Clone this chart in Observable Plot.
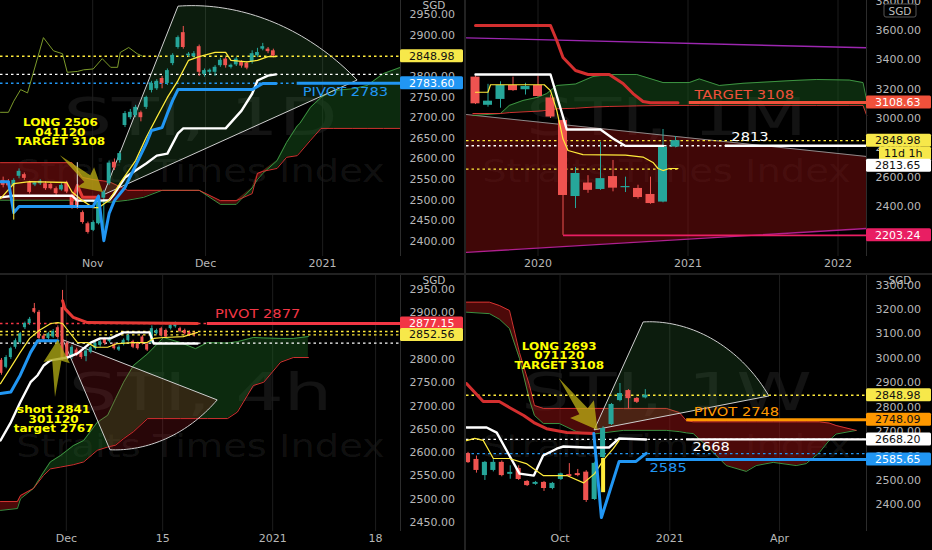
<!DOCTYPE html>
<html><head><meta charset="utf-8">
<script src="https://cdn.jsdelivr.net/npm/d3@7"></script>
<script src="https://cdn.jsdelivr.net/npm/@observablehq/plot@0.6"></script>
<style>
html,body{margin:0;padding:0;background:#000;}
#wrap{position:relative;width:932px;height:550px;overflow:hidden;background:#222;}
.panel{position:absolute;background:#000;overflow:hidden;}
.panel svg{display:block;}
</style></head><body><div id="wrap"></div>
<script>
// ================= DATA =================
// ---- Panel 1: STI, 1D (daily) ----  candles [open, high, low, close]
const d1Candles = [
 [2548,2556,2530,2536],[2545,2550,2530,2535],[2536,2552,2530,2548],[2558,2576,2552,2570],
 [2562,2566,2548,2553],[2543,2546,2515,2519],[2537,2545,2533,2542],[2540,2550,2536,2546],
 [2540,2545,2524,2528],[2538,2542,2525,2528],[2528,2532,2512,2516],[2525,2540,2522,2536],
 [2542,2546,2516,2520],[2511,2515,2478,2482],[2505,2508,2478,2482],[2470,2474,2442,2446],
 [2443,2447,2418,2422],[2427,2450,2424,2446],[2443,2512,2440,2507],[2505,2524,2402,2520],
 [2540,2595,2536,2590],[2592,2600,2572,2578],[2596,2618,2590,2613],[2681,2715,2676,2710],
 [2700,2720,2695,2713],[2705,2730,2700,2725],[2712,2716,2690,2700],[2725,2752,2720,2749],
 [2766,2788,2760,2783],[2770,2792,2766,2788],[2795,2800,2770,2783],[2783,2818,2778,2814],
 [2831,2855,2826,2851],[2870,2898,2866,2894],[2906,2921,2866,2870],[2850,2858,2846,2854],
 [2848,2860,2844,2855],[2872,2876,2800,2810],[2805,2818,2798,2814],[2810,2818,2804,2815],
 [2810,2826,2800,2822],[2826,2844,2822,2839],[2842,2846,2820,2826],[2822,2830,2818,2827],
 [2828,2846,2824,2842],[2835,2838,2820,2825],[2832,2836,2816,2820],[2835,2862,2830,2855],
 [2850,2868,2846,2858],[2866,2880,2862,2872],[2866,2870,2855,2860],[2862,2866,2845,2849]
];
const d1Tenkan = [[-0.5,2504],[2,2540],[5,2545],[12,2543],[13,2520],[15,2499],[17,2482],[18,2482],[20,2500],[22,2540],[25,2596],[27,2652],[29,2701],[31,2749],[33,2790],[35,2839],[37,2848],[40,2858],[42,2858],[43,2839],[46,2835],[48,2839],[50,2848],[51.5,2848]];
const d1Kijun = [[-0.5,2507],[2,2511],[13,2511],[14,2499],[18,2499],[20,2500],[21,2516],[23,2555],[25,2572],[27,2589],[29,2608],[31,2613],[33,2662],[34,2674],[42,2674],[45,2717],[47,2758],[48,2790],[50,2802],[51.5,2805]];
const d1Blue = [[-0.5,2545],[1,2545],[2,2470],[3,2485],[17,2485],[18,2510],[19,2402],[20,2468],[21,2499],[23,2531],[25,2584],[27,2637],[28,2669],[30,2676],[31,2710],[32,2742],[33,2768],[47,2768],[49,2783],[51.5,2783]];
const d1Lagging = [[-0.5,2713],[1,2713],[2,2740],[3.3,2768],[4.6,2760],[7.6,2894],[9.5,2862],[11.2,2855],[12.1,2810],[14,2812],[15.2,2816],[17,2818],[18.7,2843],[20.3,2822],[21.6,2822],[22.1,2858],[23.7,2870],[25.3,2855],[26.3,2849]];
const d1RedThick = [[13,2499],[14,2536],[15,2507],[18,2507]];
const d1CloudX = [-0.5,13,15,17,20,23.5,26.5,30,37,41,44,47,48,49,51.7,53.5,55.5,56,58,60,62.3,66,68.7,71.8,75];
const d1SpanA = [2500,2500,2498,2497,2495,2500,2507,2524,2524,2490,2490,2530,2550,2565,2596,2640,2680,2686,2725,2749,2766,2770,2778,2807,2822];
const d1SpanB = [2591,2591,2555,2550,2545,2524,2524,2524,2524,2499,2499,2516,2565,2570,2577,2604,2608,2615,2645,2674,2674,2674,2674,2674,2674];
const d1Dotted = [2848.98, 2805, 2783.6];
const d1Segments = [[55.5, 75, 2783.6]];
const d1Verticals = [[14, 2482, 2591], [2, 2452, 2540]];
const d1LevelText = [["PIVOT 2783", 64.6, 2763]];
const d1Note = {lines: ["LONG 2506", "041120", "TARGET 3108"], x: 10.8, y: 2664};
const d1Fan = {apex: [19, 2512], p1: [33.1, 2969], p2: [66.9, 2790]};
const d1Arrow = {tail: [10.8, 2608], tip: [18.9, 2519]};
const d1YTicks = [2400,2450,2500,2550,2600,2650,2700,2750,2800,2850,2900,2950];
const d1XTicks = [16.9, 38.2, 60.3];
const d1XLabels = ["Nov", "Dec", "2021"];
const d1Tags = [["2848.98", 2848.98], ["2783.60", 2783.60]];

// ---- Panel 2: STI, 1M (monthly, Aug 2019 .. Dec 2020) ----
const m1Candles = [
 [3282,3290,3095,3100],[3090,3233,3077,3118],[3130,3250,3070,3225],[3225,3282,3185,3190],
 [3196,3240,3160,3218],[3225,3290,3145,3150],[3140,3160,3000,3010],[2986,2990,2203,2475],
 [2468,2666,2386,2625],[2560,2610,2490,2510],[2516,2838,2510,2590],[2604,2714,2500,2525],
 [2528,2600,2495,2536],[2523,2545,2450,2461],[2482,2600,2415,2420],[2430,2925,2425,2805],
 [2805,2877,2800,2849]
];
const m1Red = [[0,3634],[6,3634],[6.5,3532],[7,3416],[8,3327],[9,3300],[10.7,3300],[11.8,3239],[12.6,3170],[13.4,3116],[14,3108],[16.2,3108]];
const m1White = [[0,3300],[6,3300],[7.3,2925],[10,2925],[11,2864],[12,2813],[15,2813]];
const m1Yellow = [[0,3179],[1,3179],[1.2,3230],[5.5,3230],[6,3190],[6.5,3055],[7,2860],[7.4,2782],[8.6,2754],[12,2750],[13.4,2737],[14.2,2700],[14.6,2659],[15,2645],[15.5,2659],[16.2,2659]];
const m1CloudX = [-0.2,2,2.7,3.8,5,5.7,6.5,8,9.4,10.7,12.9,15,17.1,17.9,19.5,21.4,25.4,27.3,29.9,31,31.3];
const m1SpanA = [3020,3034,3089,3123,3145,3170,3225,3235,3286,3300,3300,3245,3245,3270,3225,3240,3259,3266,3262,3245,3120];
const m1SpanB = [3034,3034,3040,3045,3050,3055,3066,3070,3078,3082,3086,3089,3089,3089,3089,3089,3089,3089,3089,3089,3020];
const m1ChannelTop = [[-0.72, 3027], [31.28, 2741]];
const m1ChannelBottom = [[-0.72, 2087], [31.28, 2250]];
const m1Resistance = [[-0.72, 3550], [31.28, 3482]];
const m1Dotted = [2848.98, 2813.65];
const m1DottedSeg = [[-0.72, 16.3, 2655]];
const m1Segments = [[17.1, 31.28, 3108.63], [20, 31.28, 2813.65], [7.04, 31.28, 2203.24]];
const m1LevelText = [["TARGET 3108", 21.5, 3161], ["2813", 21.96, 2870]];
const m1YTicks = [2400,2600,2800,3000,3200,3400,3600,3800];
const m1XTicks = [5, 17, 29];
const m1XLabels = ["2020", "2021", "2022"];
const m1Tags = [["3108.63", 3108.63], ["2848.98", 2848.98], ["11d 1h", 2848.98], ["2813.65", 2813.65], ["2203.24", 2203.24]];

// ---- Panel 3: STI, 4h ----
const h4Candles = [
 [2798,2802,2766,2770],[2783,2808,2780,2804],[2804,2826,2800,2823],[2826,2844,2822,2840],
 [2836,2858,2832,2855],[2868,2880,2864,2877],[2877,2890,2873,2886],[2909,2920,2898,2901],
 [2901,2905,2840,2845],[2850,2854,2838,2843],[2845,2858,2842,2855],[2848,2864,2845,2860],
 [2868,2872,2843,2847],[2911,2948,2798,2802],[2834,2838,2798,2802],[2804,2830,2800,2826],
 [2820,2824,2806,2810],[2815,2818,2800,2804],[2806,2822,2795,2818],[2815,2828,2812,2825],
 [2823,2837,2820,2834],[2830,2841,2826,2838],[2843,2846,2830,2834],[2838,2848,2835,2845],
 [2832,2835,2820,2823],[2820,2829,2817,2826],[2832,2844,2829,2841],[2840,2854,2837,2851],
 [2838,2841,2823,2826],[2834,2837,2820,2823],[2848,2851,2831,2834],[2832,2835,2817,2820],
 [2836,2872,2833,2866],[2855,2865,2852,2862],[2866,2869,2848,2851],[2862,2865,2845,2848],
 [2866,2876,2863,2873],[2870,2880,2867,2877],[2866,2869,2857,2860],[2862,2865,2852,2855],
 [2858,2861,2849,2852],[2856,2859,2848,2852.56]
];
const h4Red = [[13,2926],[13.5,2909],[15.3,2890],[18.3,2879],[41.7,2877]];
const h4Yellow = [[-0.2,2748],[2,2783],[4,2815],[6,2845],[8,2862],[10.5,2877],[12,2879],[13,2877],[14.7,2855],[16.2,2836],[18.3,2836],[20,2826],[22.6,2826],[24.7,2834],[28,2836],[31,2836],[32.4,2845],[34.5,2847],[38.7,2849],[41.7,2858]];
const h4White = [[-0.2,2626],[2,2665],[4,2708],[6.2,2751],[7.7,2766],[9,2787],[10.4,2798],[14,2804],[16.2,2813],[19,2836],[21,2845],[23.2,2845],[26,2858],[31.5,2858],[32.4,2834],[41.7,2834]];
const h4Blue = [[-0.2,2727],[2,2730],[4,2766],[6.2,2815],[7.7,2840],[12,2840]];
const h4CloudX = [-0.2,3.4,4.06,6.8,8.95,10.4,12.6,15.3,17.5,20.4,22.6,24.3,26,28.1,31.1,34.5,38.1,41.3,43.8,48.1,50.2,53.6,55.8,59.4,62.1,65.3];
const h4SpanA = [2476,2480,2501,2523,2558,2580,2594,2615,2626,2665,2680,2716,2751,2787,2812,2847,2836,2823,2836,2835,2838,2847,2846,2845,2845,2849];
const h4SpanB = [2495,2495,2508,2523,2551,2565,2569,2574,2580,2605,2612,2616,2630,2645,2673,2673,2673,2673,2673,2673,2687,2744,2751,2794,2804,2804];
const h4Dotted = [2877.15, 2860, 2852.56, 2835];
const h4Segments = [[43.8, 84.9, 2877.15]];
const h4LevelText = [["PIVOT 2877", 54.5, 2896]];
const h4Note = {lines: ["short 2841", "301120", "target 2767"], x: 11.1, y: 2671};
const h4Fan = {apex: [13.2, 2841], p1: [46, 2712], p2: [23.2, 2605]};
const h4Arrow = {tail: [11.5, 2718], tip: [12.1, 2841]};
const h4YTicks = [2450,2500,2550,2600,2650,2700,2750,2800,2850,2900,2950];
const h4XTicks = [13.8, 34.3, 57.7, 79.6];
const h4XLabels = ["Dec", "15", "2021", "18"];
const h4Tags = [["2877.15", 2877.15], ["2852.56", 2852.56]];

// ---- Panel 4: STI, 1W (weekly) ----
const w1Candles = [
 [2610,2615,2570,2573],[2586,2600,2530,2541],[2520,2578,2500,2574],[2541,2585,2535,2574],
 [2574,2580,2515,2520],[2525,2560,2505,2533],[2549,2560,2500,2504],[2496,2500,2475,2479],
 [2484,2496,2480,2492],[2492,2496,2455,2467],[2467,2492,2462,2488],[2504,2530,2500,2527],
 [2524,2569,2515,2516],[2528,2545,2515,2520],[2534,2540,2410,2418],[2422,2575,2418,2570],
 [2594,2720,2590,2713],[2729,2815,2725,2811],[2827,2897,2822,2856],[2868,2872,2794,2835],
 [2836,2840,2815,2820],[2838,2872,2834,2849]
];
const w1Red = [[-0.18,2897],[1.8,2823],[3.7,2823],[4.9,2799],[6.6,2766],[7.8,2737],[9.3,2712],[11.7,2696],[14.9,2692]];
const w1White = [[-0.18,2717],[2.2,2717],[3.4,2696],[4.9,2602],[6.1,2528],[7.8,2520],[8.9,2602],[10.5,2630],[11.3,2639],[14,2635],[16.7,2635],[17.9,2672],[21.1,2668]];
const w1Yellow = [[-0.18,2663],[0.8,2672],[1.8,2664],[3,2590],[4.9,2590],[6.9,2569],[8.9,2520],[11.7,2520],[13.7,2490],[15,2528],[16,2582],[17.2,2630],[17.9,2664]];
const w1Blue = [[14.9,2692],[15.8,2348],[17.9,2578],[19.9,2578],[21.1,2611]];
const w1CloudX = [-0.18,2.54,3.73,4.91,6.09,7.28,7.87,8.93,10.83,12.84,14.85,18.4,23.49,25.03,25.86,26.68,28.22,30.59,32.96,34.14,36.15,38.87,40.06,41.6,42.78,43.6,45.97];
const w1SpanA = [3189,3183,3160,3122,3000,2830,2766,2733,2733,2700,2690,2705,2705,2700,2695,2692,2643,2561,2537,2561,2574,2561,2569,2614,2664,2690,2705];
const w1SpanB = [3230,3230,3216,3196,3024,2889,2807,2795,2795,2795,2795,2795,2795,2778,2745,2740,2740,2740,2740,2740,2740,2740,2740,2740,2735,2725,2705];
const w1Dotted = [2848.98, 2668.2, 2610];
const w1Segments = [[25.9, 47.2, 2748.09], [25.9, 47.2, 2668.2], [21.1, 47.2, 2585.65]];
const w1Verticals = [[16, 2450, 2590]];
const w1LevelText = [["PIVOT 2748", 31.8, 2778], ["2668", 28.8, 2635], ["2585", 23.7, 2549]];
const w1Note = {lines: ["LONG 2693", "071120", "TARGET 3108"], x: 10.8, y: 3008};
const w1Fan = {apex: [15, 2705], p1: [20.8, 3147], p2: [35.7, 2844]};
const w1Arrow = {tail: [10.8, 2917], tip: [15.4, 2705]};
const w1YTicks = [2400,2500,2600,2700,2800,2900,3000,3100,3200,3300];
const w1XTicks = [10.9, 23.9, 36.9];
const w1XLabels = ["Oct", "2021", "Apr"];
const w1Tags = [["2848.98", 2848.98], ["2748.09", 2748.09], ["2668.20", 2668.20], ["2585.65", 2585.65]];

// ================= STYLE =================
const UP = "#26a69a", DOWN = "#ef5350";
const YEL = "#ffeb3b", WHITE = "#ffffff", BLUE = "#2196f3", RED = "#f23645", ORANGE = "#ff9800", PINK = "#e91e63";
const WM = "#ffffff";
const STRETCH = new Map();

const pts = arr => arr.map(([x, y]) => ({x, y}));

function fanMark(f, fill) {
  return (index, {x, y}) => {
    const A = [x(f.apex[0]), y(f.apex[1])];
    const P = [x(f.p1[0]), y(f.p1[1])], Q = [x(f.p2[0]), y(f.p2[1])];
    const r1 = Math.hypot(P[0]-A[0], P[1]-A[1]), r2 = Math.hypot(Q[0]-A[0], Q[1]-A[1]);
    const a1 = Math.atan2(P[1]-A[1], P[0]-A[0]), a2 = Math.atan2(Q[1]-A[1], Q[0]-A[0]);
    const arc = d3.range(41).map(k => { const t = k/40, a = a1+(a2-a1)*t, r = r1+(r2-r1)*t; return [A[0]+r*Math.cos(a), A[1]+r*Math.sin(a)]; });
    const g = d3.create("svg:g");
    g.append("path").attr("d", "M" + [A, ...arc].map(p => p.join(",")).join("L") + "Z")
      .attr("fill", fill).attr("stroke", "#cfcfcf").attr("stroke-width", 1);
    return g.node();
  };
}
function arrowMark(a, fill) {
  return (index, {x, y}) => {
    const tx = x(a.tail[0]), ty = y(a.tail[1]), hx = x(a.tip[0]), hy = y(a.tip[1]);
    const L = Math.hypot(hx-tx, hy-ty), ux = (hx-tx)/L, uy = (hy-ty)/L, nx = -uy, ny = ux;
    const shape = [[0,0],[0.64,-0.08],[0.6,-0.23],[1,0],[0.6,0.23],[0.64,0.08]];
    const p = shape.map(([s, w]) => [tx + ux*s*L + nx*w*L, ty + uy*s*L + ny*w*L]);
    const g = d3.create("svg:g");
    g.append("path").attr("d", "M" + p.map(q => q.join(",")).join("L") + "Z").attr("fill", fill);
    return g.node();
  };
}
function tagMark(tags, styles, sgdBox) {
  return (index, {y}, values, dim) => {
    const x0 = dim.width - dim.marginRight;
    const g = d3.create("svg:g").attr("font-family", "DejaVu Sans").attr("font-size", 11).attr("text-anchor", "start");
    if (sgdBox) g.append("rect").attr("x", x0 + 18).attr("y", 4).attr("width", 32).attr("height", 13).attr("rx", 2)
      .attr("fill", "#000").attr("stroke", "#555");
    g.append("text").attr("x", x0 + 34).attr("y", sgdBox ? 10.5 : 5).attr("text-anchor", "middle")
      .attr("dominant-baseline", "central").attr("fill", "#bdbdbd").attr("font-size", 10.5).text("SGD");
    tags.forEach(([label, value], k) => {
      const s = styles[k];
      const cy = y(value) + (s.dy || 0);
      const left = x0 + (s.inset || 0);
      g.append("rect").attr("x", left).attr("y", cy - 6.5).attr("width", dim.width - 1 - left).attr("height", 13)
        .attr("rx", 1.5).attr("fill", s.bg);
      g.append("text").attr("x", left + (s.inset ? 5 : 9)).attr("y", cy + 0.5).attr("dominant-baseline", "central")
        .attr("text-anchor", "start").attr("fill", s.fg).text(label);
    });
    return g.node();
  };
}

function panel(c) {
  const candles = c.candles.map((d, i) => ({i, o: d[0], h: d[1], l: d[2], c: d[3]}));
  const ups = candles.filter(d => d.c >= d.o), downs = candles.filter(d => d.c < d.o);
  const cloud = c.cloudX.map((x, k) => ({x, a: c.spanA[k], b: c.spanB[k]}));
  const xMap = new Map(c.xTicks.map((t, k) => [t, c.xLabels[k]]));
  STRETCH.set(c.wm, 1.5);
  STRETCH.set("Straits Times Index", 1.2);
  const marks = [
    Plot.text([c.wm], {frameAnchor: "top", dy: 98, fontSize: 51, fill: WM, fillOpacity: 0.075}),
    Plot.text(["Straits Times Index"], {frameAnchor: "top", dy: 159, fontSize: 32, fill: WM, fillOpacity: 0.075}),
    Plot.ruleX(c.xTicks, {stroke: "#1d1d1d"}),
    ...(c.back || []),
    Plot.areaY(cloud, {x: "x", y1: "b", y2: d => Math.max(d.a, d.b), fill: "#1b5e20", fillOpacity: 0.45}),
    Plot.areaY(cloud, {x: "x", y1: "a", y2: d => Math.max(d.a, d.b), fill: "#8b1010", fillOpacity: 0.55}),
    Plot.line(cloud, {x: "x", y: "a", stroke: "#43a047", strokeWidth: 0.9}),
    Plot.line(cloud, {x: "x", y: "b", stroke: "#e53935", strokeWidth: 0.9}),
  ];
  if (c.fan) marks.push(fanMark(c.fan, c.fanFill));
  c.dotted.forEach((v, k) => marks.push(Plot.ruleY([v], {stroke: c.dottedColors[k], strokeWidth: 1.4, strokeDasharray: "2.5,3"})));
  (c.dottedSeg || []).forEach((s, k) => marks.push(Plot.ruleY([s], {y: d => d[2], x1: d => d[0], x2: d => d[1], stroke: c.dottedSegColors[k], strokeWidth: 1.4, strokeDasharray: "2.5,3"})));
  for (const [set, col] of [[ups, UP], [downs, DOWN]]) {
    marks.push(Plot.ruleX(set, {x: "i", y1: "l", y2: "h", stroke: col, strokeWidth: 1}));
    marks.push(Plot.rect(set, {x1: d => d.i - c.hw, x2: d => d.i + c.hw, y1: "o", y2: "c", fill: col}));
  }
  c.lines.forEach(([arr, col, w]) => marks.push(Plot.line(pts(arr), {x: "x", y: "y", stroke: col, strokeWidth: w})));
  (c.verticals || []).forEach((v, k) => marks.push(Plot.ruleX([v], {x: d => d[0], y1: d => d[1], y2: d => d[2], stroke: c.verticalStyles[k][0], strokeWidth: c.verticalStyles[k][1]})));
  c.segments.forEach((s, k) => marks.push(Plot.ruleY([s], {y: d => d[2], x1: d => d[0], x2: d => d[1], stroke: c.segmentStyles[k][0], strokeWidth: c.segmentStyles[k][1]})));
  if (c.arrow) marks.push(arrowMark(c.arrow, c.arrowFill));
  c.levelText.forEach((t, k) => {
    STRETCH.set(t[0], 1.22);
    marks.push(Plot.text([t], {x: d => d[1], y: d => d[2], text: d => d[0], fill: c.levelTextColors[k], fontSize: 12}));
  });
  if (c.note) {
    c.note.lines.forEach(line => STRETCH.set(line, 1.2));
    marks.push(Plot.text([c.note], {x: d => d.x, y: d => d.y, text: d => d.lines.join("\n"), lineHeight: 0.94,
      fill: "#ffff00", fontSize: 10, fontWeight: "bold"}));
  }
  marks.push(Plot.ruleX([c.xd[1]], {stroke: "#2c2c2c", strokeWidth: 1}));
  marks.push(Plot.axisX({ticks: c.xTicks, tickFormat: d => xMap.get(d), tickSize: 0, tickPadding: 3, fontSize: 11, label: null}));
  marks.push(Plot.axisY({anchor: "right", ticks: c.yTicks, tickFormat: d => d.toFixed(2), tickSize: 0, tickPadding: 9, fontSize: 11, label: null}));
  marks.push(tagMark(c.tags, c.tagStyles, c.sgdBox));

  const svg = Plot.plot({
    width: c.w, height: c.h, marginLeft: 0, marginTop: 0, marginRight: c.mr, marginBottom: c.mb,
    x: {domain: c.xd}, y: {domain: c.yd},
    style: {background: "#000", color: "#b8b8b8", fontFamily: "DejaVu Sans", overflow: "visible"},
    marks
  });
  const div = document.createElement("div");
  div.className = "panel";
  div.style.left = c.left + "px"; div.style.top = c.top + "px";
  div.style.width = c.w + "px"; div.style.height = c.h + "px";
  div.appendChild(svg);
  document.getElementById("wrap").appendChild(div);
  div.querySelectorAll("text, tspan").forEach(t => {
    if (t.tagName === "text" && t.querySelector("tspan")) return;
    const f = STRETCH.get(t.textContent);
    if (f) {
      const w = t.getComputedTextLength();
      t.setAttribute("textLength", (w * f).toFixed(1));
      t.setAttribute("lengthAdjust", "spacingAndGlyphs");
    }
  });
}

const tagYellow = {bg: "#f7e84a", fg: "#111"};

// Panel 1
panel({
  left: 0, top: 0, w: 464, h: 273, mr: 64, mb: 17, xd: [-0.5, 75], yd: [2363.7, 2983.9],
  wm: "STI, 1D", candles: d1Candles, hw: 0.36,
  cloudX: d1CloudX, spanA: d1SpanA, spanB: d1SpanB,
  fan: d1Fan, fanFill: "rgba(76,175,80,0.16)",
  dotted: d1Dotted, dottedColors: [YEL, WHITE, BLUE],
  lines: [[d1Lagging, "#7c9a2a", 1], [d1RedThick, "#e53935", 3], [d1Kijun, WHITE, 2.4], [d1Tenkan, YEL, 1.3], [d1Blue, BLUE, 3]],
  verticals: d1Verticals, verticalStyles: [[ "#e0e0e0", 1], [YEL, 1]],
  segments: d1Segments, segmentStyles: [[BLUE, 3]],
  arrow: d1Arrow, arrowFill: "rgba(190,178,20,0.75)",
  levelText: d1LevelText, levelTextColors: [BLUE],
  note: d1Note,
  xTicks: d1XTicks, xLabels: d1XLabels, yTicks: d1YTicks,
  tags: d1Tags, tagStyles: [tagYellow, {bg: BLUE, fg: "#fff"}]
});

// Panel 2
const chan = m1ChannelTop.map((d, k) => ({x: d[0], hi: d[1], lo: m1ChannelBottom[k][1]}));
panel({
  left: 466, top: 0, w: 466, h: 273, mr: 66, mb: 17, xd: [-0.72, 31.28], yd: [2059, 3804.5],
  wm: "STI, 1M", candles: m1Candles, hw: 0.36,
  cloudX: m1CloudX, spanA: m1SpanA, spanB: m1SpanB,
  back: [
    Plot.areaY(chan, {x: "x", y1: "lo", y2: "hi", fill: "#7f0d0d", fillOpacity: 0.5}),
    Plot.line(pts(m1ChannelTop), {x: "x", y: "y", stroke: "#8a8a8a", strokeWidth: 1}),
    Plot.line(pts(m1ChannelBottom), {x: "x", y: "y", stroke: "#b0208f", strokeWidth: 1.4}),
    Plot.line(pts(m1Resistance), {x: "x", y: "y", stroke: "#9c27b0", strokeWidth: 1.4})
  ],
  dotted: m1Dotted, dottedColors: [YEL, WHITE],
  dottedSeg: m1DottedSeg, dottedSegColors: [YEL],
  lines: [[m1Red, "#d32f2f", 3], [m1White, WHITE, 2.4], [m1Yellow, YEL, 1.2]],
  segments: m1Segments, segmentStyles: [["#f0513b", 3], [WHITE, 2.4], [PINK, 1.6]],
  levelText: m1LevelText, levelTextColors: ["#f0513b", WHITE],
  xTicks: m1XTicks, xLabels: m1XLabels, yTicks: m1YTicks,
  sgdBox: true,
  tags: m1Tags, tagStyles: [{bg: "#f0513b", fg: "#fff"}, tagYellow, {bg: "#f7e84a", fg: "#111", dy: 13, inset: 13}, {bg: "#ffffff", fg: "#111", dy: 20}, {bg: PINK, fg: "#fff"}]
});

// Panel 3
panel({
  left: 0, top: 275, w: 464, h: 275, mr: 64, mb: 19, xd: [-0.2, 84.9], yd: [2430.7, 2980],
  wm: "STI, 4h", candles: h4Candles, hw: 0.32,
  cloudX: h4CloudX, spanA: h4SpanA, spanB: h4SpanB,
  fan: h4Fan, fanFill: "rgba(200,30,40,0.2)",
  dotted: h4Dotted, dottedColors: [RED, YEL, YEL, WHITE],
  lines: [[h4Red, "#e53935", 3], [h4White, WHITE, 2.4], [h4Yellow, YEL, 1.2], [h4Blue, BLUE, 3]],
  segments: h4Segments, segmentStyles: [[RED, 3]],
  arrow: h4Arrow, arrowFill: "rgba(170,165,20,0.8)",
  levelText: h4LevelText, levelTextColors: [RED],
  note: h4Note,
  xTicks: h4XTicks, xLabels: h4XLabels, yTicks: h4YTicks,
  tags: h4Tags, tagStyles: [{bg: RED, fg: "#fff"}, tagYellow]
});

// Panel 4
panel({
  left: 466, top: 275, w: 466, h: 275, mr: 66, mb: 19, xd: [-0.18, 47.2], yd: [2291, 3339.2],
  wm: "STI, 1W", candles: w1Candles, hw: 0.3,
  cloudX: w1CloudX, spanA: w1SpanA, spanB: w1SpanB,
  fan: w1Fan, fanFill: "rgba(76,175,80,0.16)",
  dotted: w1Dotted, dottedColors: [YEL, WHITE, BLUE],
  lines: [[w1Red, "#d32f2f", 3], [w1White, WHITE, 2.4], [w1Yellow, YEL, 1.2], [w1Blue, BLUE, 3]],
  verticals: w1Verticals, verticalStyles: [[YEL, 4]],
  segments: w1Segments, segmentStyles: [[ORANGE, 3], [WHITE, 2.4], [BLUE, 3]],
  arrow: w1Arrow, arrowFill: "rgba(190,178,20,0.75)",
  levelText: w1LevelText, levelTextColors: [ORANGE, WHITE, BLUE],
  note: w1Note,
  xTicks: w1XTicks, xLabels: w1XLabels, yTicks: w1YTicks,
  tags: w1Tags, tagStyles: [tagYellow, {bg: ORANGE, fg: "#111"}, {bg: "#ffffff", fg: "#111"}, {bg: BLUE, fg: "#fff"}]
});
</script></body></html>
